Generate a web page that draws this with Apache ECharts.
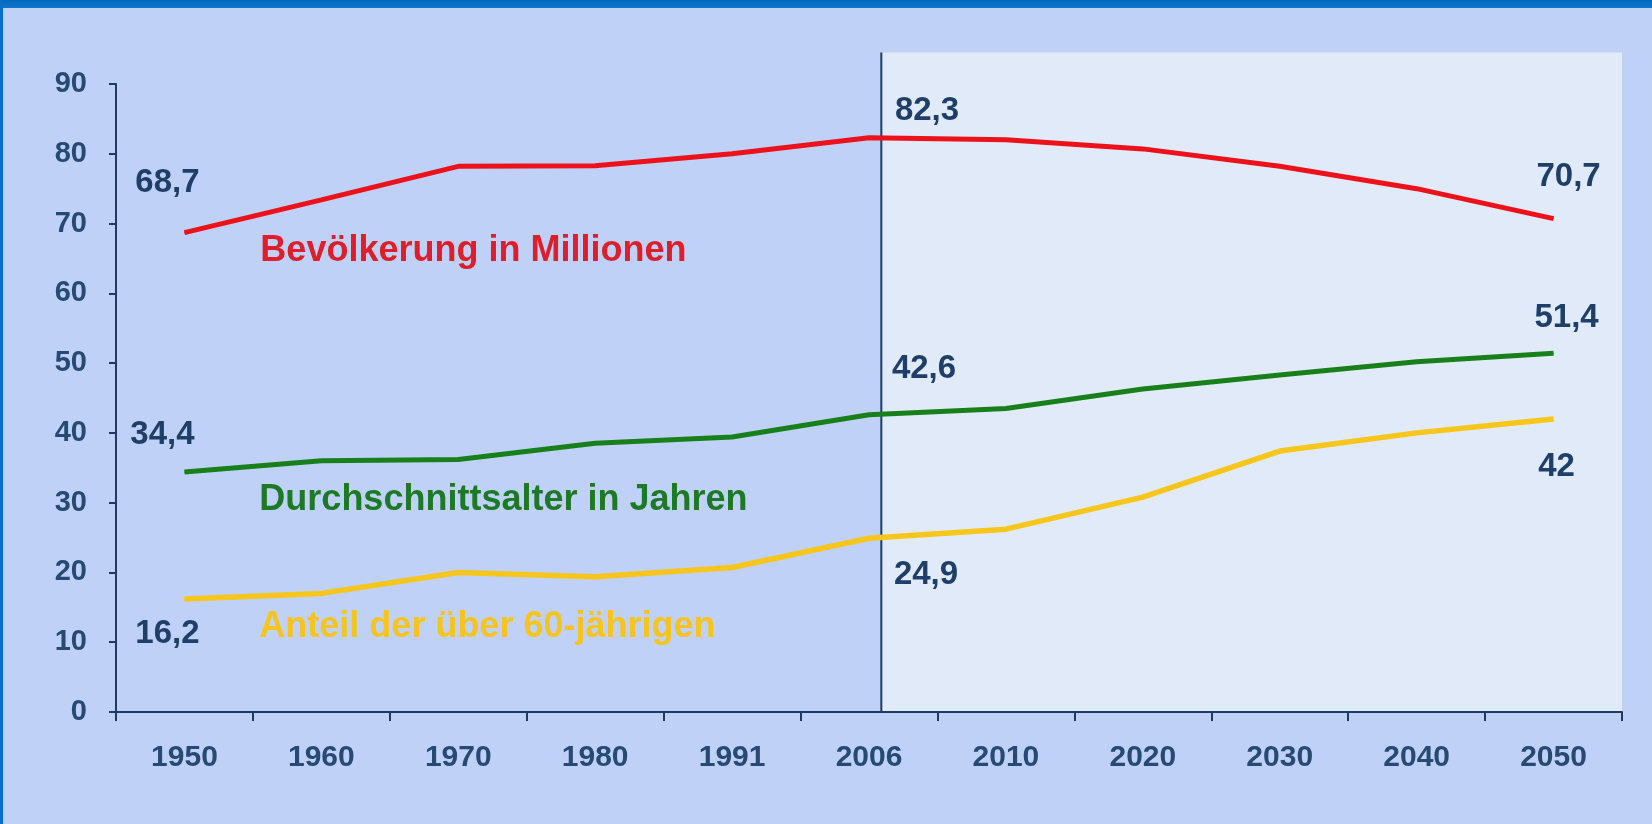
<!DOCTYPE html>
<html>
<head>
<meta charset="utf-8">
<script src="https://cdn.jsdelivr.net/npm/echarts@6/dist/echarts.min.js"></script>
<style>
  html, body { margin: 0; padding: 0; background: #bfd1f7; }
  #wrap { position: relative; width: 1652px; height: 824px; overflow: hidden; }
  #chart { position: absolute; left: 0; top: 0; width: 1652px; height: 824px; }
  .band-top { position: absolute; left: 0; top: 0; width: 1652px; height: 8px; background: linear-gradient(#0567bd, #0a78cc); }
  .band-left { position: absolute; left: 0; top: 0; width: 3px; height: 824px; background: #0a6fc4; }
</style>
</head>
<body>
<div id="wrap">
  <div id="chart"></div>
  <div class="band-top"></div>
  <div class="band-left"></div>
</div>
<script>
// ---- data ----
const years = ['1950', '1960', '1970', '1980', '1991', '2006', '2010', '2020', '2030', '2040', '2050'];
const population = [68.7, 73.4, 78.2, 78.3, 80.0, 82.3, 82.0, 80.7, 78.2, 75.0, 70.7];
const medianAge = [34.4, 36.0, 36.2, 38.5, 39.4, 42.6, 43.5, 46.3, 48.3, 50.2, 51.4];
const share60 = [16.2, 17.0, 20.0, 19.4, 20.7, 24.9, 26.2, 30.8, 37.4, 40.0, 42.0];
const seriesNames = ['Bevölkerung in Millionen', 'Durchschnittsalter in Jahren', 'Anteil der über 60-jährigen'];
const yTicks = { min: 0, max: 90, interval: 10 };

const FONT = "'Liberation Sans', Arial, sans-serif";
const TEXT_BLUE = '#1f3f68';
const colors = ['#ec121b', '#17801b', '#f7c61c'];
const nameColors = ['#dc1f2b', '#1c7a26', '#f6c41e'];

const fmt = p => String(p.value).replace('.', ',');

// label layout (offsets in px relative to the data point)
const valueLabelOffsets = [
  { 0: [-17, -50], 5: [58, -27], 10: [15, -42] },
  { 0: [-22, -37], 5: [55, -46], 10: [13, -35] },
  { 0: [-17, 35], 5: [57, 37], 10: [3, 48] }
];
const nameLabelOffsets = [[-61, 51], [-62, 39], [-62, 34]];
const NAME_IDX = 1;

function buildData(values, s) {
  return values.map((v, i) => {
    const item = { value: v };
    if (valueLabelOffsets[s][i]) {
      item.label = {
        show: true, position: 'inside', offset: valueLabelOffsets[s][i],
        formatter: fmt, color: TEXT_BLUE, fontSize: 33, fontWeight: 'bold', fontFamily: FONT
      };
    } else if (i === NAME_IDX) {
      item.label = {
        show: true, position: 'inside', align: 'left', verticalAlign: 'middle',
        offset: nameLabelOffsets[s], formatter: seriesNames[s],
        color: nameColors[s], fontSize: 36, fontWeight: 'bold', fontFamily: FONT
      };
    }
    return item;
  });
}

const allValues = [population, medianAge, share60];
const chart = echarts.init(document.getElementById('chart'), null, { renderer: 'canvas' });

const option = {
  backgroundColor: '#bfd1f7',
  animation: false,
  grid: { left: 116, right: 30, top: 84, bottom: 112, containLabel: false },
  xAxis: {
    type: 'category',
    data: years,
    boundaryGap: true,
    axisLine: { show: true, lineStyle: { color: '#1f3b63', width: 2 } },
    axisTick: { show: true, length: 9, lineStyle: { color: '#1f3b63', width: 2 } },
    axisLabel: { color: '#264a74', fontSize: 30, fontWeight: 'bold', fontFamily: FONT, margin: 31 },
    splitLine: { show: false }
  },
  yAxis: {
    type: 'value',
    min: yTicks.min, max: yTicks.max, interval: yTicks.interval,
    axisLine: { show: true, lineStyle: { color: '#1f3b63', width: 2 } },
    axisTick: { show: true, length: 7, lineStyle: { color: '#1f3b63', width: 2 } },
    axisLabel: { color: '#264a74', fontSize: 29, fontWeight: 'bold', fontFamily: FONT, margin: 29 },
    splitLine: { show: false }
  },
  series: allValues.map((vals, s) => ({
    name: seriesNames[s],
    type: 'line',
    data: buildData(vals, s),
    symbol: 'circle',
    symbolSize: 1,
    showSymbol: true,
    itemStyle: { color: colors[s] },
    lineStyle: { color: colors[s], width: s === 2 ? 5.5 : 5 },
    z: 5
  }))
};
chart.setOption(option);

// projection area (from 2006 on) + separator line, positioned via axis scales
const x2006 = chart.convertToPixel({ xAxisIndex: 0 }, '2006');
const x2010 = chart.convertToPixel({ xAxisIndex: 0 }, '2010');
const x2050 = chart.convertToPixel({ xAxisIndex: 0 }, '2050');
const step = x2010 - x2006;
const sepX = x2006 + step * 0.09;
const rightX = x2050 + step / 2;
const yTop = chart.convertToPixel({ yAxisIndex: 0 }, 94.5);
const yBottom = chart.convertToPixel({ yAxisIndex: 0 }, 0);

chart.setOption({
  graphic: [
    {
      type: 'rect', z: -10, silent: true,
      shape: { x: sepX, y: yTop, width: rightX - sepX, height: yBottom - yTop },
      style: { fill: '#e1eaf8' }
    },
    {
      type: 'line', z: 1, silent: true,
      shape: { x1: sepX, y1: yTop, x2: sepX, y2: yBottom },
      style: { stroke: '#1f3b63', lineWidth: 2 }
    }
  ]
});
</script>
</body>
</html>
